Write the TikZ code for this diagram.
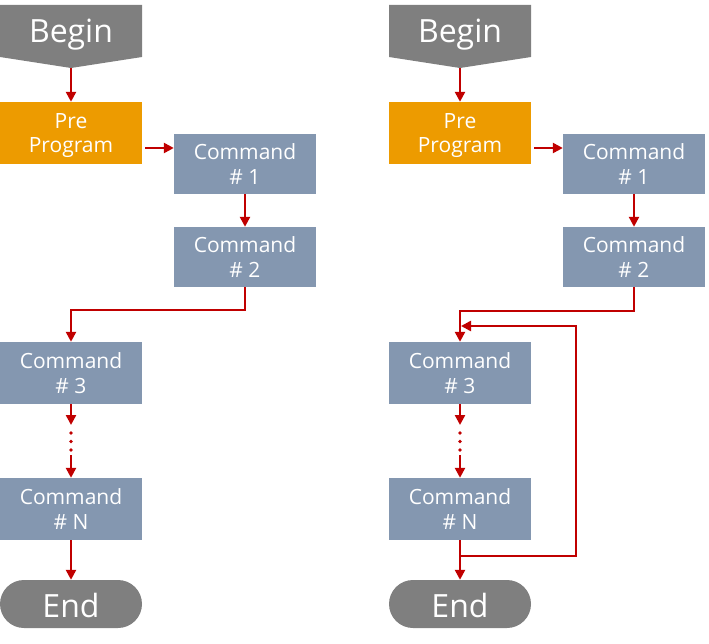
\documentclass[tikz,border=0pt]{standalone}
\usepackage{fontspec}
\setmainfont{Open Sans}
\usetikzlibrary{arrows.meta}
\definecolor{termgray}{HTML}{7F7F7F}
\definecolor{preorange}{HTML}{ED9B00}
\definecolor{cmdblue}{HTML}{8497B0}
\definecolor{arrred}{HTML}{C00000}
\tikzset{
  cmdbox/.style={fill=cmdblue, text=white, minimum width=142pt, minimum height=60pt, inner sep=0pt, align=center, font=\fontsize{21}{24.5}\selectfont},
  prebox/.style={cmdbox, fill=preorange, minimum height=62pt},
  bigtext/.style={text=white, inner sep=0pt, font=\fontsize{32}{36}\selectfont},
  endbox/.style={fill=termgray, rounded corners=24pt, minimum width=142pt, minimum height=48pt},
  arr/.style={draw=arrred, line width=2.4pt, -{Triangle[length=10pt,width=10pt]}},
  dotline/.style={draw=arrred, line width=3.8pt, line cap=round, dash pattern=on 0pt off 8.5pt}
}
\begin{document}
\begin{tikzpicture}[x=1pt,y=-1pt]
\useasboundingbox (0,0) rectangle (709,644);
% ---------- left flow ----------
\fill[termgray] (0,5) -- (142,5) -- (142,57) -- (71,68) -- (0,57) -- cycle;
\node[bigtext, anchor=base] (bL) at (71,43) {Begin};
\coordinate (bLtip) at (71,68);
\node[prebox] (preL) at (71,133) {Pre\\\smash{Program}};
\node[cmdbox] (c1L) at (245,164) {Command\\\# 1};
\node[cmdbox] (c2L) at (245,257) {Command\\\# 2};
\node[cmdbox, minimum height=62pt] (c3L) at (71,373) {Command\\\# 3};
\node[cmdbox, minimum height=62pt] (cNL) at (71,509) {Command\\\# N};
\node[endbox] (eL) at (71,604) {};
\node[bigtext, anchor=base] (eLt) at (71,617) {End};
\coordinate (d1L) at (71,425);
\coordinate (d2L) at (71,433);
\coordinate (d3L) at (71,451);
\coordinate (d4L) at (71,455);

\draw[arr] (bLtip) -- (preL.north);
\draw[arr] ([xshift=3pt,yshift=-15pt]preL.east) -- ([yshift=16pt]c1L.west);
\draw[arr] (c1L.south) -- (c2L.north);
\draw[arr] (c2L.south) -- ++(0,23) -| (c3L.north);
\draw[arr] (c3L.south) -- (d1L);
\draw[dotline] (d2L) -- (d3L);
\draw[arr] (d4L) -- (cNL.north);
\draw[arr] (cNL.south) -- (eL.north);

% ---------- right flow ----------
\fill[termgray] (389,5) -- (531,5) -- (531,57) -- (460,68) -- (389,57) -- cycle;
\node[bigtext, anchor=base] (bR) at (460,43) {Begin};
\coordinate (bRtip) at (460,68);
\node[prebox] (preR) at (460,133) {Pre\\\smash{Program}};
\node[cmdbox] (c1R) at (634,164) {Command\\\# 1};
\node[cmdbox] (c2R) at (634,257) {Command\\\# 2};
\node[cmdbox, minimum height=62pt] (c3R) at (460,373) {Command\\\# 3};
\node[cmdbox, minimum height=62pt] (cNR) at (460,509) {Command\\\# N};
\node[endbox] (eR) at (460,604) {};
\node[bigtext, anchor=base] (eRt) at (460,617) {End};
\coordinate (d1R) at (460,425);
\coordinate (d2R) at (460,433);
\coordinate (d3R) at (460,451);
\coordinate (d4R) at (460,455);
\coordinate (la) at (460,556);
\coordinate (lb) at (576,326);
\coordinate (lc) at (461,326);

\draw[arr] (bRtip) -- (preR.north);
\draw[arr] ([xshift=3pt,yshift=-15pt]preR.east) -- ([yshift=16pt]c1R.west);
\draw[arr] (c1R.south) -- (c2R.north);
\draw[arr] (c2R.south) -- ++(0,24) -| (c3R.north);
\draw[arr] (c3R.south) -- (d1R);
\draw[dotline] (d2R) -- (d3R);
\draw[arr] (d4R) -- (cNR.north);
\draw[arr] (cNR.south) -- (eR.north);
\draw[arr] (la) -| (lb) -- (lc);
\end{tikzpicture}
\end{document}
